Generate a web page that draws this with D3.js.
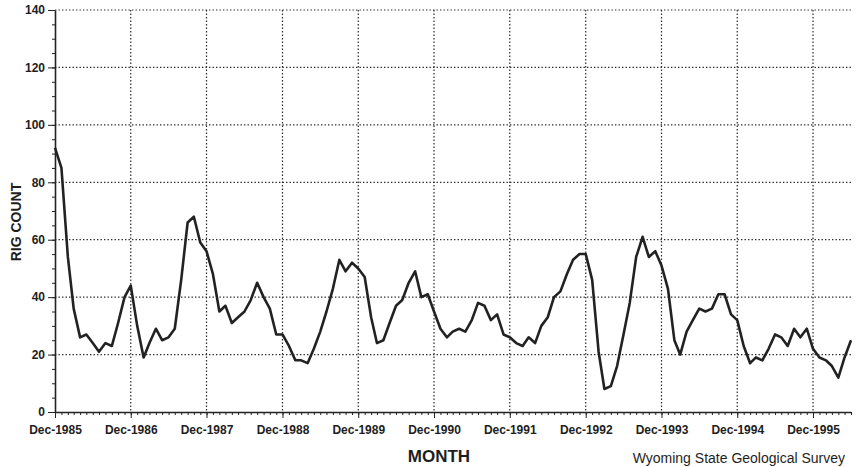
<!DOCTYPE html>
<html>
<head>
<meta charset="utf-8">
<script src="https://cdn.jsdelivr.net/npm/d3@7"></script>
<style>
  body { margin: 0; background: #fff; }
  svg { display: block; }
  .tick text { font-family: "Liberation Sans", Arial, sans-serif; font-weight: bold; font-size: 12px; fill: #1e1e1e; }
  .domain, .tick line { stroke: #222; }
</style>
</head>
<body>
<svg id="chart" width="857" height="467"></svg>
<script>
// monthly rig counts, Dec-1985 .. Jun-1996
var startMonth = new Date(1985, 11, 1);
var rigCounts = [
  92, 85, 54, 36, 26, 27, 24, 21, 24, 23, 31, 40,
  44, 30, 19, 24, 29, 25, 26, 29, 46, 66, 68, 59,
  56, 48, 35, 37, 31, 33, 35, 39, 45, 40, 36, 27,
  27, 23, 18, 18, 17, 22, 28, 35, 43, 53, 49, 52,
  50, 47, 33, 24, 25, 31, 37, 39, 45, 49, 40, 41,
  35, 29, 26, 28, 29, 28, 32, 38, 37, 32, 34, 27,
  26, 24, 23, 26, 24, 30, 33, 40, 42, 48, 53, 55,
  55, 46, 21, 8, 9, 16, 27, 38, 54, 61, 54, 56,
  51, 43, 25, 20, 28, 32, 36, 35, 36, 41, 41, 34,
  32, 23, 17, 19, 18, 22, 27, 26, 23, 29, 26, 29,
  22, 19, 18, 16, 12, 19, 25
];
var yearTicks = ["Dec-1985", "Dec-1986", "Dec-1987", "Dec-1988", "Dec-1989", "Dec-1990",
                 "Dec-1991", "Dec-1992", "Dec-1993", "Dec-1994", "Dec-1995"];
var yMajor = [0, 20, 40, 60, 80, 100, 120, 140];

var parseTick = d3.timeParse("%b-%Y");
var data = rigCounts.map((v, i) => ({ date: d3.timeMonth.offset(startMonth, i), value: v }));
var tickDates = yearTicks.map(s => parseTick(s));

var svg = d3.select("#chart");
var mLeft = 55, mRight = 851, mTop = 10, mBottom = 412;

var x = d3.scaleTime()
  .domain([startMonth, d3.timeMonth.offset(startMonth, rigCounts.length - 1)])
  .range([mLeft, mRight]);
var y = d3.scaleLinear().domain([0, 140]).range([mBottom, mTop]);

// dotted grid
var grid = svg.append("g").attr("stroke", "#2a2a2a").attr("stroke-width", 1.2)
  .attr("stroke-dasharray", "1.4,2.1");
grid.selectAll(".hg").data(yMajor.filter(d => d > 0)).join("line")
  .attr("x1", mLeft).attr("x2", mRight)
  .attr("y1", d => y(d)).attr("y2", d => y(d));
grid.selectAll(".vg").data(tickDates.slice(1)).join("line")
  .attr("x1", d => x(d)).attr("x2", d => x(d))
  .attr("y1", mTop).attr("y2", mBottom);

// minor ticks
svg.append("g").attr("transform", `translate(${mLeft},0)`)
  .call(d3.axisLeft(y).tickValues(d3.range(0, 141, 5)).tickSize(3).tickFormat(""))
  .call(g => g.select(".domain").remove());
svg.append("g").attr("transform", `translate(0,${mBottom})`)
  .call(d3.axisBottom(x).tickValues(data.map(d => d.date)).tickSize(3).tickFormat(""))
  .call(g => g.select(".domain").remove());

// major axes
svg.append("g").attr("transform", `translate(${mLeft},0)`)
  .call(d3.axisLeft(y).tickValues(yMajor).tickSize(7).tickSizeOuter(0).tickPadding(3))
  .call(g => g.select(".domain").attr("stroke-width", 1.6));
svg.append("g").attr("transform", `translate(0,${mBottom})`)
  .call(d3.axisBottom(x).tickValues(tickDates).tickSize(6).tickSizeOuter(0).tickPadding(7)
    .tickFormat(d3.timeFormat("%b-%Y")))
  .call(g => g.select(".domain").attr("stroke-width", 1.6));

// rig count line
svg.append("path").datum(data)
  .attr("fill", "none").attr("stroke", "#222").attr("stroke-width", 2.6)
  .attr("stroke-linejoin", "round")
  .attr("d", d3.line().x(d => x(d.date)).y(d => y(d.value)));

// labels
svg.append("text")
  .attr("transform", "translate(21,222) rotate(-90)")
  .attr("text-anchor", "middle")
  .style("font-family", "Liberation Sans, Arial, sans-serif")
  .style("font-weight", "bold").style("font-size", "14px").style("fill", "#1e1e1e")
  .text("RIG COUNT");
svg.append("text")
  .attr("x", 439).attr("y", 462).attr("text-anchor", "middle")
  .style("font-family", "Liberation Sans, Arial, sans-serif")
  .style("font-weight", "bold").style("font-size", "17px").style("fill", "#1e1e1e")
  .text("MONTH");
svg.append("text")
  .attr("x", 845).attr("y", 463).attr("text-anchor", "end")
  .style("font-family", "Liberation Sans, Arial, sans-serif")
  .style("font-size", "14px").style("fill", "#1e1e1e")
  .text("Wyoming State Geological Survey");
</script>
</body>
</html>
